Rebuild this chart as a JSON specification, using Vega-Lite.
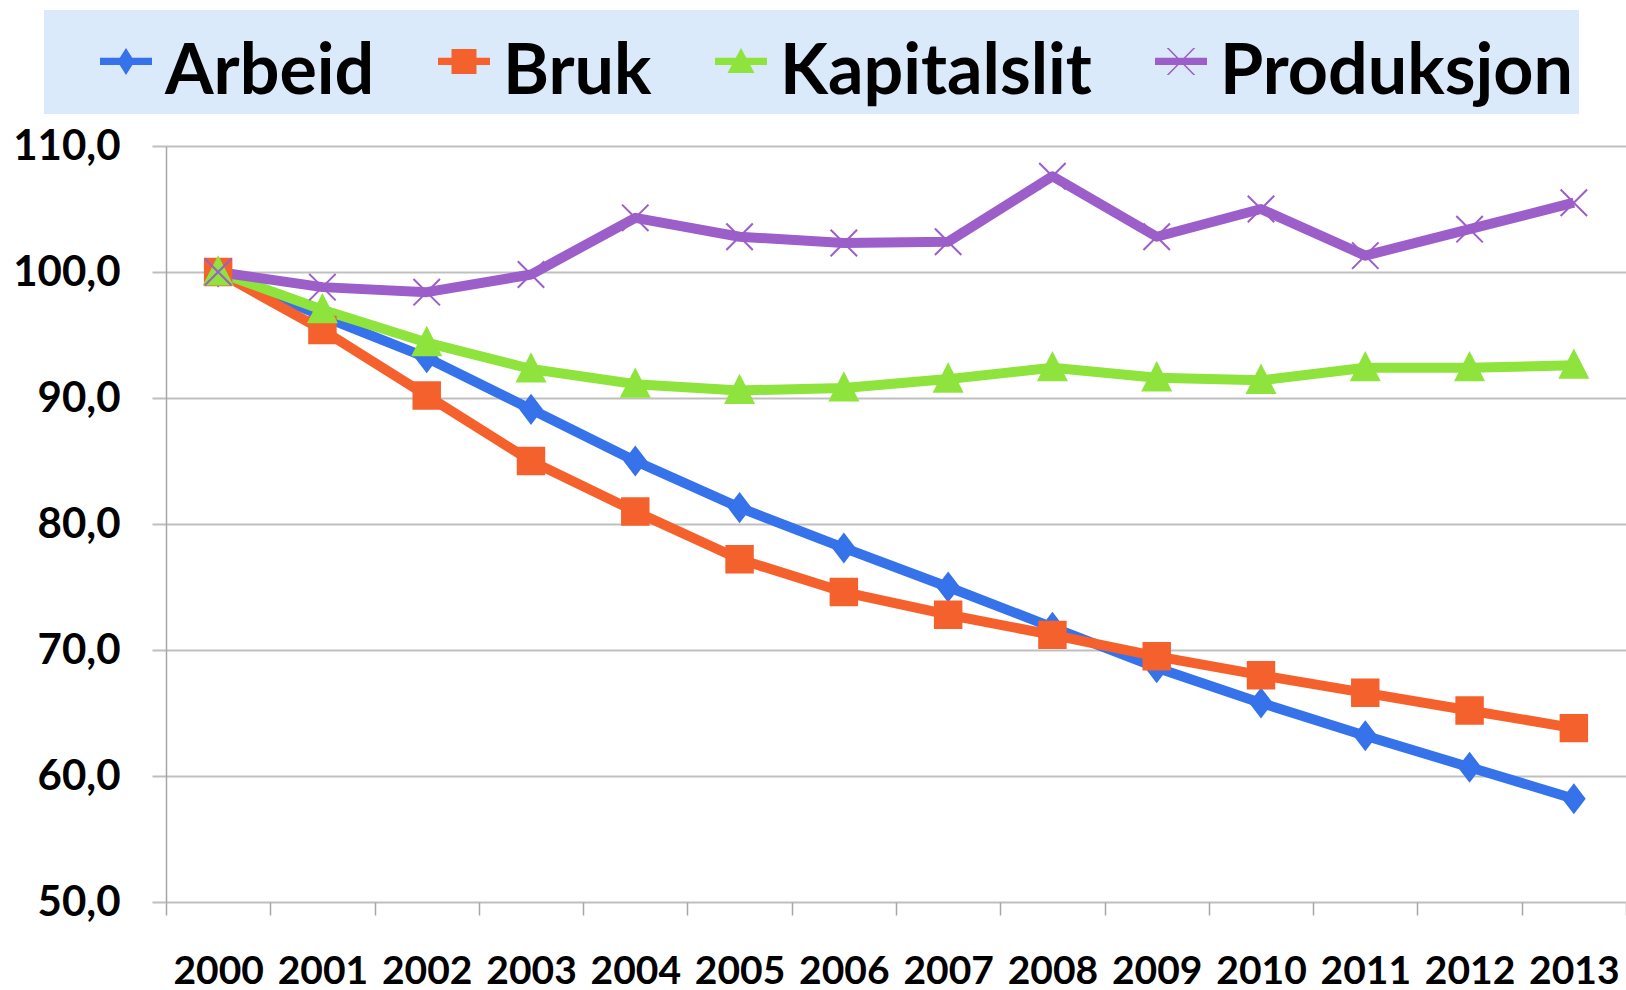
{
  "$schema": "https://vega.github.io/schema/vega-lite/v6.json",
  "autosize": {"type": "none"},
  "padding": {"left": 166, "top": 146, "right": 0, "bottom": 88},
  "width": 1460,
  "height": 756,
  "background": "white",
  "config": {
    "font": "Lato",
    "view": {"stroke": null},
    "axis": {"labelFont": "Lato", "labelFontWeight": "bold", "labelColor": "#000000", "labelFontSize": 42}
  },
  "data": {
    "values": [
      {"year": "2000", "series": "Arbeid", "value": 100.0},
      {"year": "2001", "series": "Arbeid", "value": 96.5},
      {"year": "2002", "series": "Arbeid", "value": 93.2},
      {"year": "2003", "series": "Arbeid", "value": 89.1},
      {"year": "2004", "series": "Arbeid", "value": 85.0},
      {"year": "2005", "series": "Arbeid", "value": 81.3},
      {"year": "2006", "series": "Arbeid", "value": 78.1},
      {"year": "2007", "series": "Arbeid", "value": 75.0},
      {"year": "2008", "series": "Arbeid", "value": 71.8},
      {"year": "2009", "series": "Arbeid", "value": 68.6},
      {"year": "2010", "series": "Arbeid", "value": 65.8},
      {"year": "2011", "series": "Arbeid", "value": 63.2},
      {"year": "2012", "series": "Arbeid", "value": 60.7},
      {"year": "2013", "series": "Arbeid", "value": 58.2},
      {"year": "2000", "series": "Bruk", "value": 100.0},
      {"year": "2001", "series": "Bruk", "value": 95.4},
      {"year": "2002", "series": "Bruk", "value": 90.2},
      {"year": "2003", "series": "Bruk", "value": 85.0},
      {"year": "2004", "series": "Bruk", "value": 81.0},
      {"year": "2005", "series": "Bruk", "value": 77.2},
      {"year": "2006", "series": "Bruk", "value": 74.6},
      {"year": "2007", "series": "Bruk", "value": 72.8},
      {"year": "2008", "series": "Bruk", "value": 71.2},
      {"year": "2009", "series": "Bruk", "value": 69.5},
      {"year": "2010", "series": "Bruk", "value": 68.0},
      {"year": "2011", "series": "Bruk", "value": 66.6},
      {"year": "2012", "series": "Bruk", "value": 65.2},
      {"year": "2013", "series": "Bruk", "value": 63.8},
      {"year": "2000", "series": "Kapitalslit", "value": 100.0},
      {"year": "2001", "series": "Kapitalslit", "value": 97.0},
      {"year": "2002", "series": "Kapitalslit", "value": 94.4},
      {"year": "2003", "series": "Kapitalslit", "value": 92.3},
      {"year": "2004", "series": "Kapitalslit", "value": 91.1},
      {"year": "2005", "series": "Kapitalslit", "value": 90.6},
      {"year": "2006", "series": "Kapitalslit", "value": 90.8},
      {"year": "2007", "series": "Kapitalslit", "value": 91.5},
      {"year": "2008", "series": "Kapitalslit", "value": 92.4},
      {"year": "2009", "series": "Kapitalslit", "value": 91.6},
      {"year": "2010", "series": "Kapitalslit", "value": 91.4},
      {"year": "2011", "series": "Kapitalslit", "value": 92.4},
      {"year": "2012", "series": "Kapitalslit", "value": 92.4},
      {"year": "2013", "series": "Kapitalslit", "value": 92.6},
      {"year": "2000", "series": "Produksjon", "value": 100.0},
      {"year": "2001", "series": "Produksjon", "value": 98.8},
      {"year": "2002", "series": "Produksjon", "value": 98.4},
      {"year": "2003", "series": "Produksjon", "value": 99.8},
      {"year": "2004", "series": "Produksjon", "value": 104.3},
      {"year": "2005", "series": "Produksjon", "value": 102.8},
      {"year": "2006", "series": "Produksjon", "value": 102.3},
      {"year": "2007", "series": "Produksjon", "value": 102.4},
      {"year": "2008", "series": "Produksjon", "value": 107.6},
      {"year": "2009", "series": "Produksjon", "value": 102.8},
      {"year": "2010", "series": "Produksjon", "value": 105.0},
      {"year": "2011", "series": "Produksjon", "value": 101.3},
      {"year": "2012", "series": "Produksjon", "value": 103.4},
      {"year": "2013", "series": "Produksjon", "value": 105.5}
    ]
  },
  "encoding": {
    "x": {
      "field": "year", "type": "ordinal", "title": null,
      "scale": {"type": "band", "paddingInner": 0, "paddingOuter": 0},
      "axis": {
        "labelAngle": 0, "domain": false, "grid": false,
        "ticks": true, "tickBand": "extent", "tickSize": 13, "tickColor": "#a6a6a6", "tickWidth": 1.5,
        "labelPadding": 37, "labelOverlap": false, "labelFontSize": 39
      }
    },
    "y": {
      "field": "value", "type": "quantitative", "title": null,
      "scale": {"domain": [50, 110], "nice": false, "zero": false},
      "axis": {
        "values": [50, 60, 70, 80, 90, 100, 110],
        "labelExpr": "replace(format(datum.value, '.1f'), '.', ',')",
        "domain": true, "domainColor": "#a6a6a6", "domainWidth": 1.5,
        "ticks": true, "tickSize": 14, "tickColor": "#bfbfbf", "tickWidth": 2,
        "grid": true, "gridColor": "#bfbfbf", "gridWidth": 2,
        "labelPadding": 32, "labelFontSize": 42
      }
    },
    "color": {
      "field": "series", "type": "nominal",
      "scale": {"domain": ["Arbeid", "Bruk", "Kapitalslit", "Produksjon"], "range": ["#3672ea", "#f5612d", "#8ee33d", "#9c5ec9"]},
      "legend": {
        "orient": "none", "legendX": -122, "legendY": -136,
        "direction": "horizontal",
        "title": "\u00a0", "titleOrient": "left", "titleFontSize": 20, "titlePadding": 45,
        "fillColor": "#dbeafa", "padding": 6, "strokeColor": null,
        "labelFont": "Lato", "labelFontWeight": "bold", "labelFontSize": 70, "labelColor": "#000000",
        "symbolSize": 2704, "symbolOffset": -4, "columnPadding": 58, "labelLimit": 600,
        "encode": {
          "symbols": {
            "update": {
              "shape": {"signal": "datum.value === 'Arbeid' ? 'M-1,0.26L1,0.26L1,0.54L-1,0.54Z M0,-0.12L0.33,0.4L0,0.92L-0.33,0.4Z' : datum.value === 'Bruk' ? 'M-1,0.26L1,0.26L1,0.54L-1,0.54Z M-0.48,-0.08L0.48,-0.08L0.48,0.88L-0.48,0.88Z' : datum.value === 'Kapitalslit' ? 'M-1,0.26L1,0.26L1,0.54L-1,0.54Z M0,-0.12L0.52,0.85L-0.52,0.85Z' : 'M-1,0.26L1,0.26L1,0.54L-1,0.54Z M-0.55,-0.12L-0.47,-0.12L0.55,0.92L0.47,0.92Z M-0.55,0.92L0.47,-0.12L0.55,-0.12L-0.47,0.92Z'"},
              "size": {"value": 2704},
              "fill": {"scale": "color", "field": "value"},
              "stroke": {"value": "transparent"},
              "strokeWidth": {"value": 0},
              "opacity": {"value": 1},
              "fillOpacity": {"value": 1}
            }
          },
          "labels": {"update": {"dy": {"value": 22}}}
        }
      }
    }
  },
  "layer": [
    {
      "mark": {"type": "line", "strokeWidth": 10, "strokeJoin": "round", "strokeCap": "butt"}
    },
    {
      "mark": {"type": "point", "filled": true, "opacity": 1, "strokeWidth": 2, "size": 700},
      "encoding": {
        "shape": {
          "field": "series", "type": "nominal", "legend": null,
          "scale": {"domain": ["Produksjon", "Kapitalslit", "Bruk", "Arbeid"], "range": ["M-1,-1L1,1M-1,1L1,-1", "M0,-1.1L1.05,0.95L-1.05,0.95Z", "square", "M0,-1.05L0.8,0L0,1.05L-0.8,0Z"]}
        },
        "stroke": {
          "field": "series", "type": "nominal", "legend": null,
          "scale": {"domain": ["Bruk", "Arbeid", "Produksjon", "Kapitalslit"], "range": ["#f5612d", "#3672ea", "#9c5ec9", "#8ee33d"]}
        }
      }
    }
  ]
}
